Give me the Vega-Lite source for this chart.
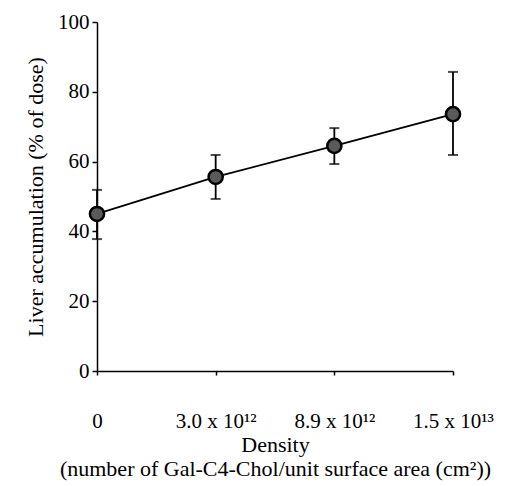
{
  "$schema": "https://vega.github.io/schema/vega-lite/v6.json",
  "width": 356,
  "height": 349,
  "autosize": "none",
  "padding": {"left": 97, "top": 22, "right": 67, "bottom": 115},
  "background": "white",
  "config": {
    "view": {"stroke": null},
    "font": "Liberation Serif",
    "axis": {
      "grid": false,
      "domainColor": "black",
      "domainWidth": 1.5,
      "tickColor": "black",
      "tickWidth": 1.5,
      "labelColor": "black",
      "titleColor": "black",
      "labelFont": "Liberation Serif",
      "titleFont": "Liberation Serif",
      "labelFontSize": 21,
      "titleFontSize": 22,
      "titleFontWeight": "normal"
    }
  },
  "data": {
    "values": [
      {"density": "0", "mean": 45.0, "lo": 37.8, "hi": 51.9},
      {"density": "3.0 x 10¹²", "mean": 55.6, "lo": 49.3, "hi": 61.9},
      {"density": "8.9 x 10¹²", "mean": 64.5, "lo": 59.3, "hi": 69.6},
      {"density": "1.5 x 10¹³", "mean": 73.6, "lo": 61.9, "hi": 85.7}
    ]
  },
  "encoding": {
    "x": {
      "field": "density",
      "type": "ordinal",
      "sort": null,
      "scale": {"type": "point", "padding": 0},
      "axis": {
        "title": ["Density", "(number of Gal-C4-Chol/unit surface area (cm²))"],
        "titleFont": "Liberation Serif",
        "titleFontSize": 22,
        "titleFontWeight": "normal",
        "labelFont": "Liberation Serif",
        "labelAngle": 0,
        "tickSize": 4,
        "labelPadding": 35,
        "titlePadding": 3,
        "titleLineHeight": 24
      }
    }
  },
  "layer": [
    {
      "mark": {"type": "rule", "color": "black", "strokeWidth": 1.8},
      "encoding": {
        "y": {
          "field": "lo",
          "type": "quantitative",
          "scale": {"domain": [0, 100]},
          "axis": {
            "title": "Liver accumulation (% of dose)",
            "titleFont": "Liberation Serif",
            "titleFontSize": 22,
            "titleFontWeight": "normal",
            "labelFont": "Liberation Serif",
            "values": [0, 20, 40, 60, 80, 100],
            "tickSize": 5,
            "labelPadding": 3,
            "titlePadding": 10
          }
        },
        "y2": {"field": "hi"}
      }
    },
    {
      "mark": {"type": "tick", "color": "black", "orient": "horizontal", "size": 10, "thickness": 2},
      "encoding": {"y": {"field": "lo", "type": "quantitative"}}
    },
    {
      "mark": {"type": "tick", "color": "black", "orient": "horizontal", "size": 10, "thickness": 2},
      "encoding": {"y": {"field": "hi", "type": "quantitative"}}
    },
    {
      "mark": {"type": "line", "color": "black", "strokeWidth": 1.8},
      "encoding": {"y": {"field": "mean", "type": "quantitative"}}
    },
    {
      "mark": {"type": "point", "shape": "circle", "filled": true, "fill": "#5a5a5a", "stroke": "black", "strokeWidth": 2.5, "size": 200, "opacity": 1},
      "encoding": {"y": {"field": "mean", "type": "quantitative"}}
    }
  ]
}
